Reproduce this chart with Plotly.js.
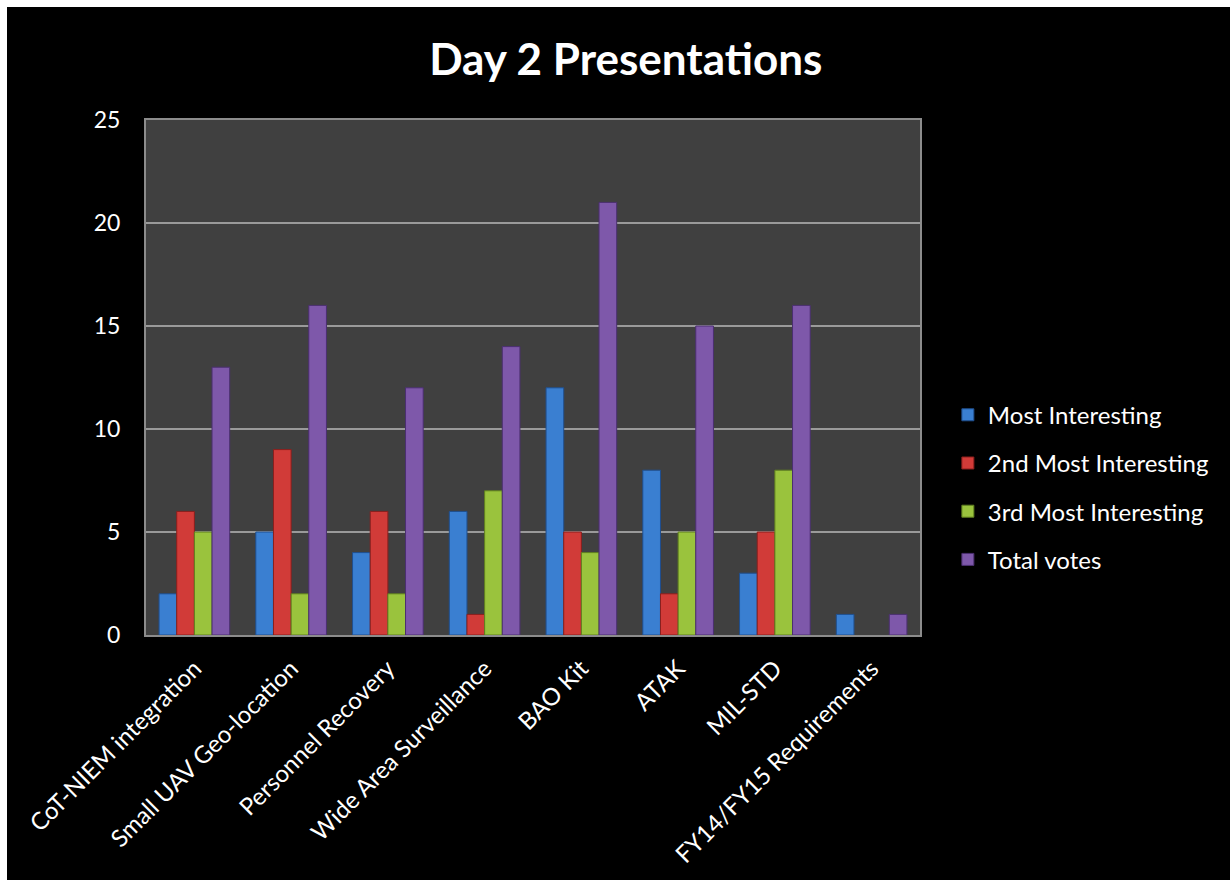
<!DOCTYPE html>
<html>
<head>
<meta charset="utf-8">
<script src="https://cdn.plot.ly/plotly-3.0.1.min.js"></script>
<style>
html,body{margin:0;padding:0;background:#ffffff;width:1230px;height:880px;overflow:hidden;}
#chart{position:absolute;left:7px;top:7px;width:1223px;height:873px;background:#000;}
</style>
</head>
<body>
<div id="chart"></div>
<script>
const categories = ["CoT-NIEM integration","Small UAV Geo-location","Personnel Recovery","Wide Area Surveillance","BAO Kit","ATAK","MIL-STD","FY14/FY15 Requirements"];
const seriesNames = ["Most Interesting","2nd Most Interesting","3rd Most Interesting","Total votes"];
const mostInteresting = [2,5,4,6,12,8,3,1];
const secondMost = [6,9,6,1,5,2,5,0];
const thirdMost = [5,2,2,7,4,5,8,0];
const totalVotes = [13,16,12,14,21,15,16,1];
const yTicks = [0,5,10,15,20,25];

const values = [mostInteresting, secondMost, thirdMost, totalVotes];
const colors = ["#3a7fd1","#d13b38","#9ac33d","#7e58aa"];
const lines = ["#1f4f8f","#8a1f1d","#5f7f1f","#4b2f70"];

const traces = values.map((v,i)=>({
  type:"bar",
  name:seriesNames[i],
  x:categories,
  y:v,
  legendgroup:"g"+i,
  marker:{color:colors[i], line:{color:lines[i], width:v.map(d=>d===0?0:1)}},
  hoverinfo:"x+y+name"
}));

const layout = {
  width:1223, height:873,
  paper_bgcolor:"#000000",
  plot_bgcolor:"#404040",
  margin:{l:139, r:310, t:113, b:245, pad:0},
  font:{family:"Lato, 'Open Sans', sans-serif", color:"#ffffff", size:22},
  title:{text:"<b>Day 2 Presentations</b>", x:0.506, xref:"container", xanchor:"center", y:1-53/873, yref:"container", yanchor:"middle", font:{size:44, color:"#ffffff", family:"Lato, 'Open Sans', sans-serif"}},
  barmode:"group",
  bargap:0.27,
  bargroupgap:0,
  xaxis:{
    tickangle:-45,
    tickfont:{size:24, color:"#ffffff"},
    showline:true, linecolor:"#8c8c8c", linewidth:2, mirror:true,
    ticks:"", showgrid:false, automargin:false,
    ticklabelstandoff:8
  },
  yaxis:{
    range:[0,25],
    tickvals:yTicks,
    ticktext:yTicks.map(String),
    tickfont:{size:23, color:"#ffffff"},
    showgrid:true, gridcolor:"#9a9a9a", gridwidth:2,
    showline:true, linecolor:"#8c8c8c", linewidth:2, mirror:true,
    zeroline:false, ticks:"",
    ticklabelstandoff:19,
    automargin:false
  },
  showlegend:true,
  legend:{
    x:1.036, xanchor:"left", y:0.287, yanchor:"middle",
    bgcolor:"rgba(0,0,0,0)",
    font:{size:24, color:"#ffffff"},
    tracegroupgap:14,
    traceorder:"grouped",
    itemwidth:30
  }
};

Plotly.newPlot("chart", traces, layout, {displayModeBar:false, staticPlot:true});
</script>
</body>
</html>
